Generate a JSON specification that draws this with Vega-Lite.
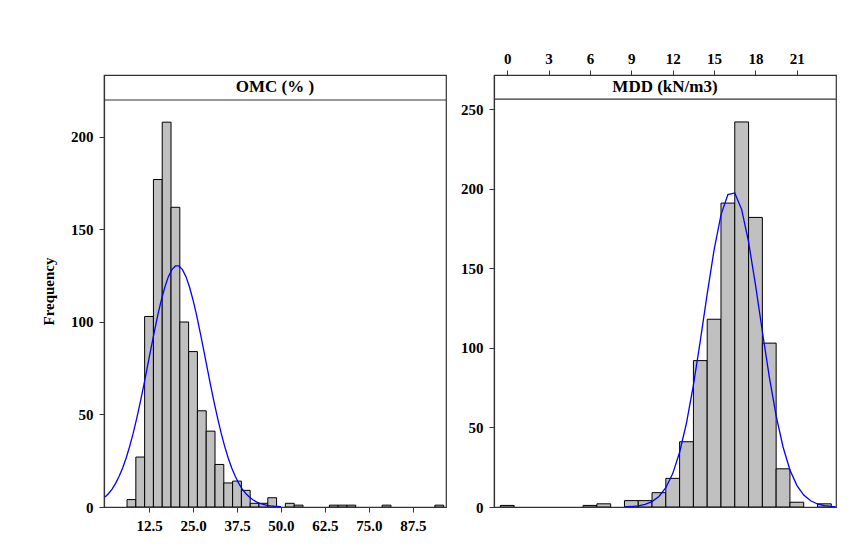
{
  "$schema": "https://vega.github.io/schema/vega-lite/v6.json",
  "background": "white",
  "padding": {"left": 40, "top": 50, "right": 5, "bottom": 5},
  "autosize": {"type": "pad"},
  "bounds": "flush",
  "spacing": 48,
  "config": {
    "font": "Liberation Serif",
    "view": {"stroke": "#333333", "strokeWidth": 1.2},
    "axis": {
      "grid": false,
      "domainColor": "#333333",
      "domainWidth": 1.2,
      "tickColor": "#333333",
      "tickSize": 5,
      "labelFont": "Liberation Serif",
      "labelFontSize": 15,
      "labelFontWeight": "bold",
      "labelColor": "#000000",
      "labelPadding": 6,
      "titleFont": "Liberation Serif",
      "titleFontSize": 15,
      "titleFontWeight": "bold",
      "titleColor": "#000000"
    }
  },
  "datasets": {
    "omc_bins": [
      {"lo": 6.25, "hi": 8.75, "count": 4},
      {"lo": 8.75, "hi": 11.25, "count": 27},
      {"lo": 11.25, "hi": 13.75, "count": 103},
      {"lo": 13.75, "hi": 16.25, "count": 177},
      {"lo": 16.25, "hi": 18.75, "count": 208},
      {"lo": 18.75, "hi": 21.25, "count": 162},
      {"lo": 21.25, "hi": 23.75, "count": 100},
      {"lo": 23.75, "hi": 26.25, "count": 84},
      {"lo": 26.25, "hi": 28.75, "count": 52},
      {"lo": 28.75, "hi": 31.25, "count": 41},
      {"lo": 31.25, "hi": 33.75, "count": 23},
      {"lo": 33.75, "hi": 36.25, "count": 13},
      {"lo": 36.25, "hi": 38.75, "count": 14},
      {"lo": 38.75, "hi": 41.25, "count": 9},
      {"lo": 41.25, "hi": 43.75, "count": 2},
      {"lo": 43.75, "hi": 46.25, "count": 2},
      {"lo": 46.25, "hi": 48.75, "count": 5},
      {"lo": 51.25, "hi": 53.75, "count": 2},
      {"lo": 53.75, "hi": 56.25, "count": 1},
      {"lo": 63.75, "hi": 66.25, "count": 1},
      {"lo": 66.25, "hi": 68.75, "count": 1},
      {"lo": 68.75, "hi": 71.25, "count": 1},
      {"lo": 78.75, "hi": 81.25, "count": 1},
      {"lo": 93.75, "hi": 96.25, "count": 1}
    ],
    "omc_curve": [
      {"x": 0, "y": 5.4}, {"x": 1, "y": 7.3}, {"x": 2, "y": 9.7}, {"x": 3, "y": 12.8},
      {"x": 4, "y": 16.6}, {"x": 5, "y": 21.1}, {"x": 6, "y": 26.5}, {"x": 7, "y": 32.8},
      {"x": 8, "y": 39.9}, {"x": 9, "y": 47.9}, {"x": 10, "y": 56.6}, {"x": 11, "y": 65.8},
      {"x": 12, "y": 75.5}, {"x": 13, "y": 85.2}, {"x": 14, "y": 94.7}, {"x": 15, "y": 103.8},
      {"x": 16, "y": 111.9}, {"x": 17, "y": 118.9}, {"x": 18, "y": 124.5}, {"x": 19, "y": 128.3},
      {"x": 20, "y": 130.3}, {"x": 21, "y": 130.3}, {"x": 22, "y": 128.3}, {"x": 23, "y": 124.5},
      {"x": 24, "y": 118.9}, {"x": 25, "y": 111.9}, {"x": 26, "y": 103.8}, {"x": 27, "y": 94.7},
      {"x": 28, "y": 85.2}, {"x": 29, "y": 75.5}, {"x": 30, "y": 65.8}, {"x": 31, "y": 56.6},
      {"x": 32, "y": 47.9}, {"x": 33, "y": 39.9}, {"x": 34, "y": 32.8}, {"x": 35, "y": 26.5},
      {"x": 36, "y": 21.1}, {"x": 37, "y": 16.6}, {"x": 38, "y": 12.8}, {"x": 39, "y": 9.7},
      {"x": 40, "y": 7.3}, {"x": 41, "y": 5.4}, {"x": 42, "y": 3.9}, {"x": 43, "y": 2.8},
      {"x": 44, "y": 2.0}, {"x": 45, "y": 1.4}, {"x": 46, "y": 0.9}, {"x": 47, "y": 0.6},
      {"x": 48, "y": 0.4}, {"x": 49, "y": 0.3}, {"x": 50, "y": 0.2}
    ],
    "mdd_bins": [
      {"lo": -0.5, "hi": 0.5, "count": 1},
      {"lo": 5.5, "hi": 6.5, "count": 1},
      {"lo": 6.5, "hi": 7.5, "count": 2},
      {"lo": 8.5, "hi": 9.5, "count": 4},
      {"lo": 9.5, "hi": 10.5, "count": 4},
      {"lo": 10.5, "hi": 11.5, "count": 9},
      {"lo": 11.5, "hi": 12.5, "count": 18},
      {"lo": 12.5, "hi": 13.5, "count": 41},
      {"lo": 13.5, "hi": 14.5, "count": 92},
      {"lo": 14.5, "hi": 15.5, "count": 118},
      {"lo": 15.5, "hi": 16.5, "count": 191},
      {"lo": 16.5, "hi": 17.5, "count": 242},
      {"lo": 17.5, "hi": 18.5, "count": 182},
      {"lo": 18.5, "hi": 19.5, "count": 103},
      {"lo": 19.5, "hi": 20.5, "count": 24},
      {"lo": 20.5, "hi": 21.5, "count": 3},
      {"lo": 22.5, "hi": 23.5, "count": 2}
    ],
    "mdd_curve": [
      {"x": 8.5, "y": 0.1}, {"x": 9, "y": 0.3}, {"x": 9.5, "y": 0.7}, {"x": 10, "y": 1.6},
      {"x": 10.5, "y": 3.4}, {"x": 11, "y": 6.6}, {"x": 11.5, "y": 12.1}, {"x": 12, "y": 21.0},
      {"x": 12.5, "y": 34.4}, {"x": 13, "y": 52.9}, {"x": 13.5, "y": 76.6}, {"x": 14, "y": 104.4},
      {"x": 14.5, "y": 133.9}, {"x": 15, "y": 161.6}, {"x": 15.5, "y": 183.6}, {"x": 16, "y": 196.3},
      {"x": 16.5, "y": 197.4}, {"x": 17, "y": 186.9}, {"x": 17.5, "y": 166.6}, {"x": 18, "y": 139.7},
      {"x": 18.5, "y": 110.3}, {"x": 19, "y": 81.9}, {"x": 19.5, "y": 57.3}, {"x": 20, "y": 37.7},
      {"x": 20.5, "y": 23.3}, {"x": 21, "y": 13.6}, {"x": 21.5, "y": 7.5}, {"x": 22, "y": 3.9},
      {"x": 22.5, "y": 1.9}, {"x": 23, "y": 0.9}, {"x": 23.5, "y": 0.4}, {"x": 23.8, "y": 0.2}
    ]
  },
  "hconcat": [
    {
      "width": 342,
      "height": 432,
      "layer": [
        {
          "data": {"name": "omc_bins"},
          "mark": {"type": "bar", "fill": "#c0c0c0", "stroke": "#000000", "strokeWidth": 1, "clip": true},
          "encoding": {
            "x": {"field": "lo", "type": "quantitative", "title": null,
                  "scale": {"domain": [-0.3, 96.9], "nice": false, "zero": false},
                  "axis": {"orient": "bottom", "values": [12.5, 25, 37.5, 50, 62.5, 75, 87.5], "format": ".1f"}},
            "x2": {"field": "hi"},
            "y": {"field": "count", "type": "quantitative", "title": "Frequency",
                  "scale": {"domain": [0, 233.5], "nice": false},
                  "axis": {"values": [0, 50, 100, 150, 200], "titlePadding": 14}},
            "y2": {"datum": 0}
          }
        },
        {
          "data": {"name": "omc_curve"},
          "mark": {"type": "line", "color": "#0000ff", "strokeWidth": 1.3, "clip": true},
          "encoding": {
            "x": {"field": "x", "type": "quantitative", "title": null},
            "y": {"field": "y", "type": "quantitative", "title": "Frequency"}
          }
        },
        {
          "data": {"values": [{"label": "OMC (% )"}]},
          "mark": {"type": "rule", "color": "#333333", "strokeWidth": 1.2},
          "encoding": {"y": {"datum": 220}}
        },
        {
          "data": {"values": [{"label": "OMC (% )"}]},
          "mark": {"type": "text", "font": "Liberation Serif", "fontSize": 17, "fontWeight": "bold", "baseline": "middle", "color": "#000000"},
          "encoding": {"y": {"datum": 226.8}, "text": {"field": "label"}}
        }
      ]
    },
    {
      "width": 342,
      "height": 432,
      "layer": [
        {
          "data": {"name": "mdd_bins"},
          "mark": {"type": "bar", "fill": "#c0c0c0", "stroke": "#000000", "strokeWidth": 1, "clip": true},
          "encoding": {
            "x": {"field": "lo", "type": "quantitative", "title": null,
                  "scale": {"domain": [-0.96, 23.84], "nice": false, "zero": false},
                  "axis": {"orient": "top", "values": [0, 3, 6, 9, 12, 15, 18, 21], "labelPadding": 4}},
            "x2": {"field": "hi"},
            "y": {"field": "count", "type": "quantitative", "title": null,
                  "scale": {"domain": [0, 271.5], "nice": false},
                  "axis": {"values": [0, 50, 100, 150, 200, 250]}},
            "y2": {"datum": 0}
          }
        },
        {
          "data": {"name": "mdd_curve"},
          "mark": {"type": "line", "color": "#0000ff", "strokeWidth": 1.3, "clip": true},
          "encoding": {
            "x": {"field": "x", "type": "quantitative", "title": null},
            "y": {"field": "y", "type": "quantitative", "title": null}
          }
        },
        {
          "data": {"values": [{"label": "MDD (kN/m3)"}]},
          "mark": {"type": "rule", "color": "#333333", "strokeWidth": 1.2},
          "encoding": {"y": {"datum": 256.3}}
        },
        {
          "data": {"values": [{"label": "MDD (kN/m3)"}]},
          "mark": {"type": "text", "font": "Liberation Serif", "fontSize": 17, "fontWeight": "bold", "baseline": "middle", "color": "#000000"},
          "encoding": {"y": {"datum": 264}, "text": {"field": "label"}}
        }
      ]
    }
  ]
}
